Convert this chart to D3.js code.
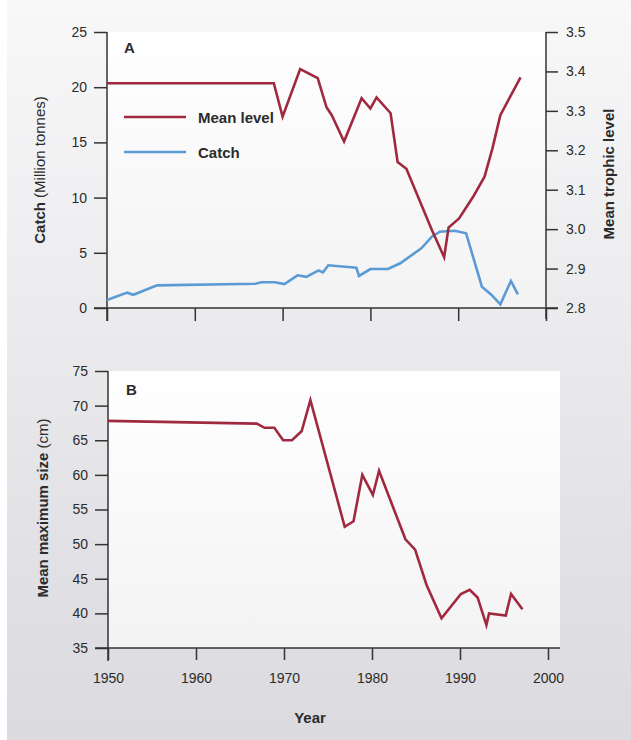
<!DOCTYPE html>
<html>
<head>
<meta charset="utf-8">
<script src="https://cdn.jsdelivr.net/npm/d3@7"></script>
<style>
  body { margin: 0; background: #fff; }
  text { font-family: "Liberation Sans", Arial, sans-serif; fill: #2b2b2b; }
  .tick text { font-size: 14px; }
  .bold { font-weight: bold; }
</style>
</head>
<body>
<script>
// --- data ---
const yearTicks = [1950, 1960, 1970, 1980, 1990, 2000];
const catchTicks = [0, 5, 10, 15, 20, 25];
const trophicTicks = [2.8, 2.9, 3.0, 3.1, 3.2, 3.3, 3.4, 3.5];
const sizeTicks = [35, 40, 45, 50, 55, 60, 65, 70, 75];

const trophicYears = [1950, 1969, 1970, 1972, 1974, 1975, 1975.6, 1977, 1979, 1980, 1980.7, 1982.3, 1983.1, 1984.1, 1987, 1988.4, 1988.9, 1990.1, 1991.7, 1993, 1993.9, 1994.8, 1997.1];
const trophicLevel = [3.37, 3.37, 3.285, 3.406, 3.383, 3.309, 3.289, 3.222, 3.332, 3.306, 3.334, 3.294, 3.170, 3.153, 2.998, 2.929, 3.004, 3.027, 3.082, 3.133, 3.205, 3.289, 3.385];

const catchYears = [1950, 1952.3, 1953, 1955.7, 1966.9, 1967.6, 1969.1, 1970.2, 1971.7, 1972.7, 1974.1, 1974.6, 1975.2, 1978.4, 1978.7, 1980, 1982, 1983.4, 1985.8, 1987, 1987.9, 1989.6, 1990.9, 1992.7, 1993.8, 1994.8, 1996, 1996.8];
const catchValues = [0.72, 1.39, 1.2, 2.05, 2.2, 2.33, 2.33, 2.17, 2.96, 2.82, 3.4, 3.23, 3.87, 3.65, 2.9, 3.53, 3.53, 4.05, 5.41, 6.46, 6.91, 7.0, 6.77, 1.93, 1.18, 0.33, 2.45, 1.24];

const sizeYears = [1950, 1966.9, 1967.8, 1968.9, 1969.9, 1970.9, 1972, 1973, 1976.9, 1977.9, 1978.9, 1980.1, 1980.8, 1983.8, 1984.9, 1986.2, 1987.9, 1990.1, 1991.1, 1992, 1993, 1993.3, 1995.2, 1995.8, 1997.1];
const sizeValues = [67.8, 67.4, 66.8, 66.8, 65.0, 65.0, 66.3, 70.8, 52.5, 53.3, 60.0, 57.1, 60.6, 50.7, 49.2, 44.1, 39.3, 42.8, 43.4, 42.3, 38.3, 40.0, 39.7, 42.8, 40.6];

const red = "#a0283f", blue = "#5b9bd5", axisColor = "#333";

const svg = d3.select("body").append("svg").attr("width", 631).attr("height", 740);

// gradients
const defs = svg.append("defs");
function grad(id, c0, c1) {
  const g = defs.append("linearGradient").attr("id", id).attr("x1", 0).attr("y1", 0).attr("x2", 0).attr("y2", 1);
  g.append("stop").attr("offset", "0%").attr("stop-color", c0);
  g.append("stop").attr("offset", "100%").attr("stop-color", c1);
}
grad("bg", "#f8f8f9", "#dadadf");
grad("plot", "#ffffff", "#f3f3f3");

svg.append("rect").attr("x", 7).attr("y", 0).attr("width", 624).attr("height", 740).attr("fill", "url(#bg)");

// ---------- panel A ----------
const xA = d3.scaleLinear().domain([1950, 2000]).range([107, 546]);
const yCatch = d3.scaleLinear().domain([0, 25]).range([308, 32]);
const yTL = d3.scaleLinear().domain([2.8, 3.5]).range([308, 32]);

svg.append("rect").attr("x", xA(1950)).attr("y", yCatch(25))
  .attr("width", xA(2000) - xA(1950)).attr("height", yCatch(0) - yCatch(25)).attr("fill", "url(#plot)");

function styleAxis(g) {
  g.select(".domain").remove();
  g.selectAll(".tick line").attr("stroke", axisColor).attr("stroke-width", 1.5);
  g.selectAll(".tick text").attr("fill", "#2b2b2b");
}

svg.append("g").attr("transform", `translate(${xA(1950)},0)`)
  .call(d3.axisLeft(yCatch).tickValues(catchTicks).tickSize(13).tickPadding(7))
  .call(styleAxis);
svg.append("g").attr("transform", `translate(${xA(2000)},0)`)
  .call(d3.axisRight(yTL).tickValues(trophicTicks).tickSize(12).tickPadding(8).tickFormat(d3.format(".1f")))
  .call(styleAxis);
svg.append("g").attr("transform", `translate(0,${yCatch(0)})`)
  .call(d3.axisBottom(xA).tickValues(yearTicks).tickSize(13).tickFormat(""))
  .call(styleAxis);

// axis lines
const axLines = [
  [xA(1950), yCatch(25), xA(1950), yCatch(0) + 13],
  [xA(2000), yCatch(25), xA(2000), yCatch(0) + 11],
  [xA(1950) - 13, yCatch(0), xA(2000) + 12, yCatch(0)]
];
svg.selectAll(".axA").data(axLines).join("line")
  .attr("x1", d => d[0]).attr("y1", d => d[1]).attr("x2", d => d[2]).attr("y2", d => d[3])
  .attr("stroke", axisColor).attr("stroke-width", 1.5);

svg.append("path")
  .datum(catchYears.map((y, i) => [y, catchValues[i]]))
  .attr("fill", "none").attr("stroke", blue).attr("stroke-width", 2.6).attr("stroke-linejoin", "miter")
  .attr("d", d3.line().x(d => xA(d[0])).y(d => yCatch(d[1])));

svg.append("path")
  .datum(trophicYears.map((y, i) => [y, trophicLevel[i]]))
  .attr("fill", "none").attr("stroke", red).attr("stroke-width", 2.6).attr("stroke-linejoin", "miter")
  .attr("d", d3.line().x(d => xA(d[0])).y(d => yTL(d[1])));

svg.append("text").attr("class", "bold").attr("x", 124).attr("y", 53).attr("font-size", 15).text("A");

// legend
const legend = [{ label: "Mean level", color: red, y: 117 }, { label: "Catch", color: blue, y: 152 }];
const lg = svg.selectAll(".lg").data(legend).join("g");
lg.append("line").attr("x1", 124).attr("x2", 186).attr("y1", d => d.y).attr("y2", d => d.y)
  .attr("stroke", d => d.color).attr("stroke-width", 2.6);
lg.append("text").attr("class", "bold").attr("x", 198).attr("y", d => d.y + 6).attr("font-size", 15).text(d => d.label);

// axis titles
const tCatch = svg.append("text").attr("transform", "translate(45,170) rotate(-90)").attr("text-anchor", "middle").attr("font-size", 15);
tCatch.append("tspan").attr("font-weight", "bold").text("Catch");
tCatch.append("tspan").text(" (Million tonnes)");

svg.append("text").attr("class", "bold").attr("transform", "translate(614,174) rotate(-90)")
  .attr("text-anchor", "middle").attr("font-size", 15).text("Mean trophic level");

// ---------- panel B ----------
const xB = d3.scaleLinear().domain([1950, 2000]).range([108, 548]);
const ySize = d3.scaleLinear().domain([35, 75]).range([648, 371]);

svg.append("rect").attr("x", xB(1950)).attr("y", ySize(75))
  .attr("width", 560 - xB(1950)).attr("height", ySize(35) - ySize(75)).attr("fill", "url(#plot)");

svg.append("g").attr("transform", `translate(${xB(1950)},0)`)
  .call(d3.axisLeft(ySize).tickValues(sizeTicks).tickSize(13).tickPadding(7))
  .call(styleAxis);
svg.append("g").attr("transform", `translate(0,${ySize(35)})`)
  .call(d3.axisBottom(xB).tickValues(yearTicks).tickSize(12).tickPadding(13).tickFormat(d3.format("d")))
  .call(styleAxis);

const axLinesB = [
  [xB(1950), ySize(75), xB(1950), ySize(35) + 13],
  [xB(1950) - 13, ySize(35), 560, ySize(35)]
];
svg.selectAll(".axB").data(axLinesB).join("line")
  .attr("x1", d => d[0]).attr("y1", d => d[1]).attr("x2", d => d[2]).attr("y2", d => d[3])
  .attr("stroke", axisColor).attr("stroke-width", 1.5);

svg.append("path")
  .datum(sizeYears.map((y, i) => [y, sizeValues[i]]))
  .attr("fill", "none").attr("stroke", red).attr("stroke-width", 2.6).attr("stroke-linejoin", "miter")
  .attr("d", d3.line().x(d => xB(d[0])).y(d => ySize(d[1])));

svg.append("text").attr("class", "bold").attr("x", 126).attr("y", 395).attr("font-size", 15).text("B");

const tSize = svg.append("text").attr("transform", "translate(48,508) rotate(-90)").attr("text-anchor", "middle").attr("font-size", 15);
tSize.append("tspan").attr("font-weight", "bold").text("Mean maximum size");
tSize.append("tspan").text(" (cm)");

svg.append("text").attr("class", "bold").attr("x", 310).attr("y", 723).attr("text-anchor", "middle")
  .attr("font-size", 15).text("Year");
</script>
</body>
</html>
